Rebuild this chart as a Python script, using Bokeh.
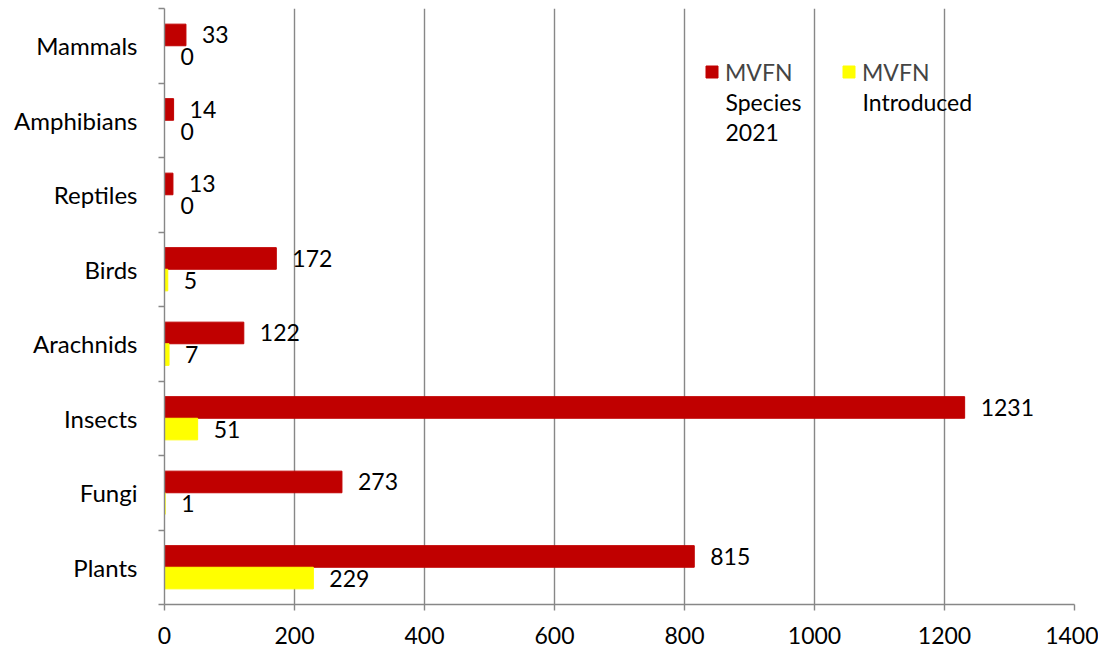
from bokeh.plotting import figure
from bokeh.models import ColumnDataSource, Range1d, FixedTicker, Legend, LegendItem, Label
from bokeh.embed import file_html
from bokeh.resources import INLINE
from bokeh.core.properties import value

categories = ["Plants", "Fungi", "Insects", "Arachnids", "Birds", "Reptiles", "Amphibians", "Mammals"]
species_2021 = [815, 273, 1231, 122, 172, 13, 14, 33]
introduced = [229, 1, 51, 7, 5, 0, 0, 0]
x_ticks = [0, 200, 400, 600, 800, 1000, 1200, 1400]
series_first = ["MVFN", "MVFN"]
series_rest = ["Species\n2021", "Introduced"]

FONT = "Lato"
GRAY = "#878787"
RED = "#C00000"
YELLOW = "#FFFF00"
bar_h = 0.29

centers = [i + 0.5 for i in range(len(categories))]
src = ColumnDataSource(dict(
    cat=categories,
    y_sp=[c + bar_h / 2 for c in centers],
    y_in=[c - bar_h / 2 for c in centers],
    sp=species_2021,
    intro=introduced,
    sp_txt=[str(v) for v in species_2021],
    in_txt=[str(v) for v in introduced],
))

p = figure(width=1098, height=648, x_range=Range1d(x_ticks[0], x_ticks[-1]),
           y_range=Range1d(0, len(categories)), output_backend="svg", toolbar_location=None,
           min_border_left=164, min_border_right=24, min_border_top=8, min_border_bottom=44)
p.outline_line_color = None
p.background_fill_color = "white"

r1 = p.hbar(y="y_sp", left=0, right="sp", height=bar_h, color=RED, source=src)
r2 = p.hbar(y="y_in", left=0, right="intro", height=bar_h, color=YELLOW, source=src)

for xcol, ycol, tcol in [("sp", "y_sp", "sp_txt"), ("intro", "y_in", "in_txt")]:
    p.text(x=xcol, y=ycol, text=tcol, x_offset=16, text_baseline="middle", text_align="left",
           text_font=value(FONT), text_font_size="23px", text_color="black", source=src)

p.xgrid.grid_line_color = GRAY
p.xgrid.grid_line_width = 1.4
p.ygrid.grid_line_color = None

xa = p.xaxis[0]
xa.ticker = FixedTicker(ticks=x_ticks)
xa.axis_line_color = GRAY
xa.axis_line_width = 1.4
xa.major_tick_line_color = GRAY
xa.major_tick_line_width = 1.4
xa.major_tick_in = 0
xa.major_tick_out = 6
xa.minor_tick_line_color = None
xa.major_label_text_font = FONT
xa.major_label_text_font_size = "23px"
xa.major_label_text_font_style = "normal"
xa.major_label_text_color = "black"
xa.major_label_standoff = 16

ya = p.yaxis[0]
ya.ticker = FixedTicker(ticks=centers, minor_ticks=list(range(len(categories) + 1)))
ya.major_label_overrides = {c: n for c, n in zip(centers, categories)}
ya.axis_line_color = GRAY
ya.axis_line_width = 1.4
ya.major_tick_line_color = None
ya.major_tick_in = 0
ya.major_tick_out = 0
ya.minor_tick_line_color = GRAY
ya.minor_tick_line_width = 1.4
ya.minor_tick_in = 0
ya.minor_tick_out = 6
ya.major_label_text_font = FONT
ya.major_label_text_font_size = "24px"
ya.major_label_text_font_style = "normal"
ya.major_label_text_color = "black"
ya.major_label_standoff = 21

legend_x = [540, 677]
for r, first, rest, lx in zip([r1, r2], series_first, series_rest, legend_x):
    lg = Legend(items=[LegendItem(label=first, renderers=[r])],
                location=(lx, 518), border_line_color=None, background_fill_alpha=0,
                glyph_width=15, glyph_height=15, label_standoff=6,
                padding=0, margin=0, label_text_font=FONT, label_text_font_size="23px",
                label_height=29)
    p.add_layout(lg)
    p.add_layout(Label(x=lx + 21, y=517, x_units="screen", y_units="screen", text=rest,
                       text_font=FONT, text_font_size="23px", text_color="black",
                       text_baseline="top", text_align="left", text_line_height=1.1))

open("out.html", "w").write(file_html(p, INLINE))
